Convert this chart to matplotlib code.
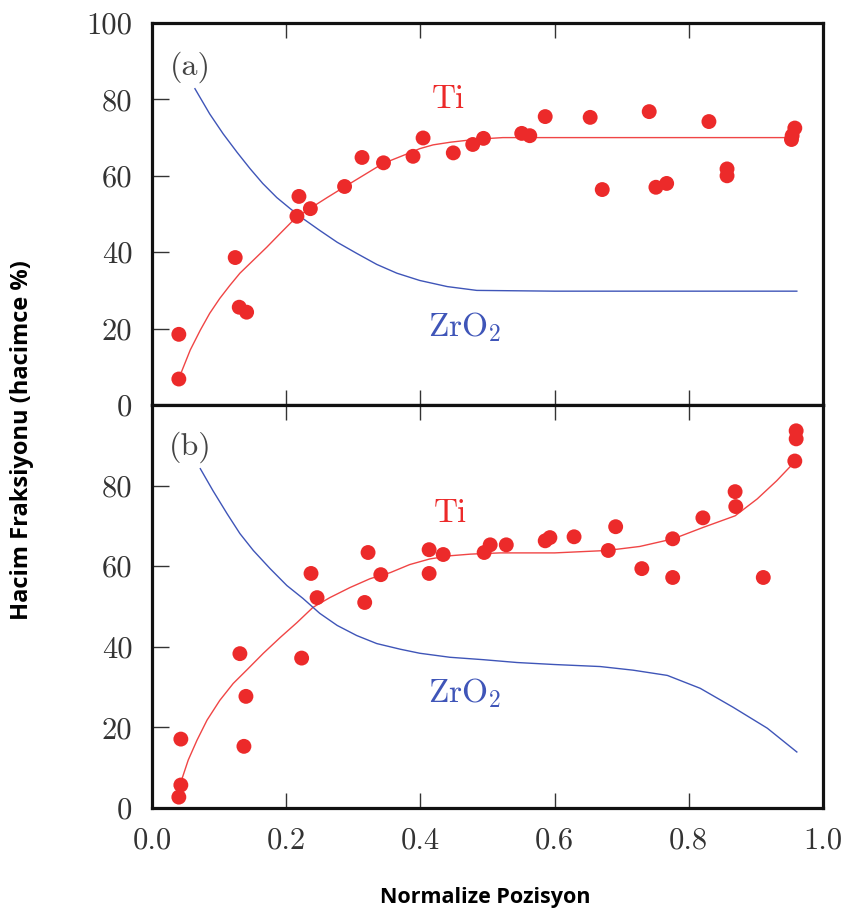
import matplotlib
matplotlib.use("Agg")
import matplotlib.pyplot as plt
from matplotlib.ticker import FixedLocator, FuncFormatter

plt.rcParams['mathtext.fontset'] = 'cm'
plt.rcParams['axes.unicode_minus'] = False

# ---------------- Panel (a) ----------------
a_ti_x = [0.040, 0.040, 0.124, 0.130, 0.141, 0.219, 0.216, 0.236, 0.287, 0.313,
          0.345, 0.389, 0.404, 0.449, 0.478, 0.494, 0.551, 0.563, 0.586, 0.653,
          0.671, 0.741, 0.751, 0.767, 0.830, 0.857, 0.857, 0.958, 0.954, 0.953]
a_ti_y = [18.5, 6.8, 38.6, 25.6, 24.3, 54.6, 49.4, 51.4, 57.2, 64.8,
          63.4, 65.1, 69.9, 66.0, 68.2, 69.8, 71.1, 70.5, 75.5, 75.3,
          56.4, 76.8, 57.0, 58.0, 74.2, 61.8, 60.0, 72.5, 70.5, 69.5]

a_ti_fit_x = [0.044, 0.057, 0.072, 0.086, 0.101, 0.116, 0.131, 0.151, 0.171, 0.191,
              0.213, 0.235, 0.261, 0.285, 0.314, 0.344, 0.374, 0.399, 0.419, 0.445,
              0.470, 0.495, 0.523, 0.955]
a_ti_fit_y = [8.7, 14.4, 19.6, 24.0, 27.9, 31.3, 34.5, 37.9, 41.3, 44.9,
              48.8, 51.4, 54.3, 56.9, 60.0, 63.2, 65.3, 67.1, 68.1, 68.8,
              69.3, 69.7, 70.0, 70.0]

a_zr_fit_x = [0.064, 0.086, 0.106, 0.127, 0.146, 0.165, 0.186, 0.206, 0.225, 0.250,
              0.276, 0.305, 0.335, 0.365, 0.399, 0.440, 0.484, 0.600, 0.961]
a_zr_fit_y = [82.8, 76.2, 71.0, 66.1, 61.9, 58.0, 54.3, 51.4, 48.8, 45.7,
              42.6, 39.7, 36.8, 34.5, 32.6, 31.0, 30.0, 29.8, 29.8]

# ---------------- Panel (b) ----------------
b_ti_x = [0.043, 0.043, 0.040, 0.131, 0.140, 0.137, 0.223, 0.237, 0.246, 0.317,
          0.322, 0.341, 0.413, 0.413, 0.434, 0.495, 0.504, 0.528, 0.586, 0.593,
          0.629, 0.680, 0.691, 0.730, 0.776, 0.776, 0.821, 0.869, 0.870, 0.911,
          0.958, 0.960, 0.960]
b_ti_y = [17.1, 5.7, 2.7, 38.3, 27.7, 15.3, 37.2, 58.2, 52.2, 51.0,
          63.4, 57.9, 58.2, 64.1, 62.9, 63.4, 65.3, 65.3, 66.3, 67.1,
          67.3, 63.9, 69.8, 59.4, 57.2, 66.8, 72.0, 78.5, 74.8, 57.2,
          86.1, 91.6, 93.6]

b_ti_fit_x = [0.044, 0.054, 0.067, 0.082, 0.101, 0.121, 0.141, 0.166, 0.191, 0.216,
              0.240, 0.265, 0.295, 0.325, 0.355, 0.384, 0.414, 0.445, 0.475, 0.519,
              0.600, 0.678, 0.727, 0.777, 0.821, 0.869, 0.902, 0.931, 0.955]
b_ti_fit_y = [6.9, 11.9, 16.8, 21.8, 26.7, 30.9, 34.2, 38.4, 42.3, 46.0,
              49.8, 52.2, 54.7, 56.9, 58.4, 60.4, 61.8, 62.6, 63.0, 63.3,
              63.3, 63.9, 64.9, 66.8, 69.6, 72.5, 76.7, 81.2, 85.4]

b_zr_fit_x = [0.072, 0.091, 0.112, 0.131, 0.151, 0.176, 0.201, 0.225, 0.250, 0.276,
              0.305, 0.335, 0.370, 0.399, 0.444, 0.494, 0.544, 0.600, 0.668, 0.717,
              0.768, 0.817, 0.866, 0.917, 0.961]
b_zr_fit_y = [84.2, 78.7, 73.0, 68.1, 63.9, 59.4, 55.2, 52.0, 48.3, 45.3,
              42.8, 40.8, 39.4, 38.4, 37.4, 36.8, 36.1, 35.6, 35.1, 34.2,
              32.9, 29.7, 25.0, 19.8, 13.9]

x_ticks = [0.0, 0.2, 0.4, 0.6, 0.8, 1.0]
y_ticks_a = [0, 20, 40, 60, 80, 100]
y_ticks_b = [0, 20, 40, 60, 80]

panel_labels = ["(a)", "(b)"]
ti_label = "Ti"
zr_label = r"$\mathrm{ZrO_2}$"
xlabel = "Normalize Pozisyon"
ylabel = "Hacim Fraksiyonu (hacimce %)"

RED = "#ec2a2a"
RED_LINE = "#f04545"
BLUE = "#3f55b8"
TXT = "#333333"
SERIF = "cmr10"

fig = plt.figure(figsize=(8.49, 9.18), dpi=100)
L, R = 152 / 849, 823 / 849
top_a, bot_a = 1 - 23 / 918, 1 - 405 / 918
bot_b = 1 - 808 / 918
ax_a = fig.add_axes([L, bot_a, R - L, top_a - bot_a])
ax_b = fig.add_axes([L, bot_b, R - L, bot_a - bot_b])


def style(ax, yt, show_x):
    ax.set_xlim(0, 1)
    ax.set_ylim(0, 100)
    for s in ax.spines.values():
        s.set_linewidth(2.3)
        s.set_color("#111111")
    ax.xaxis.set_major_locator(FixedLocator(x_ticks if show_x else [0.2, 0.4, 0.6, 0.8]))
    ax.yaxis.set_major_locator(FixedLocator(yt))
    ax.xaxis.set_major_formatter(FuncFormatter(lambda v, p: f"{v:.1f}"))
    ax.yaxis.set_major_formatter(FuncFormatter(lambda v, p: f"{int(v)}"))
    ax.tick_params(axis='x', direction='in', length=11, width=1.0, color="#333333",
                   top=True, bottom=True, labelbottom=show_x, pad=14,
                   labelsize=22, labelcolor=TXT)
    ax.tick_params(axis='y', direction='in', length=12, width=1.0, color="#333333",
                   left=True, right=False, pad=14, labelsize=22, labelcolor=TXT)
    for lab in ax.get_yticklabels() + ax.get_xticklabels():
        lab.set_fontfamily(SERIF)


for ax, tx, ty, zx, zy, px, py, yt, showx in [
        (ax_a, a_ti_fit_x, a_ti_fit_y, a_zr_fit_x, a_zr_fit_y, a_ti_x, a_ti_y, y_ticks_a, False),
        (ax_b, b_ti_fit_x, b_ti_fit_y, b_zr_fit_x, b_zr_fit_y, b_ti_x, b_ti_y, y_ticks_b, True)]:
    ax.plot(tx, ty, color=RED_LINE, lw=1.0, zorder=2)
    ax.plot(zx, zy, color=BLUE, lw=1.0, zorder=2)
    ax.scatter(px, py, s=115, color=RED, edgecolors='none', zorder=3)
    style(ax, yt, showx)

# annotations
for ax, pl, tix, tiy, zx, zy, py in [
        (ax_a, panel_labels[0], 0.441, 80.0, 0.466, 20.5, 88.5),
        (ax_b, panel_labels[1], 0.444, 73.0, 0.466, 28.5, 89.5)]:
    ax.text(0.057, py, pl, fontfamily=SERIF, fontsize=23, color="#444444",
            ha='center', va='center')
    ax.text(tix, tiy, ti_label, fontfamily=SERIF, fontsize=24, color=RED,
            ha='center', va='center')
    ax.text(zx, zy, zr_label, fontsize=24, color=BLUE, ha='center', va='center')

fig.text(485 / 849, 1 - 898 / 918, xlabel, fontfamily="Open Sans", fontweight='bold',
         fontsize=15.5, ha='center', va='center', color='black')
fig.text(22 / 849, 1 - 440 / 918, ylabel, fontfamily="Open Sans", fontweight='bold',
         fontsize=17, ha='center', va='center', rotation=90, color='black')

fig.savefig("out.png", dpi=100)
